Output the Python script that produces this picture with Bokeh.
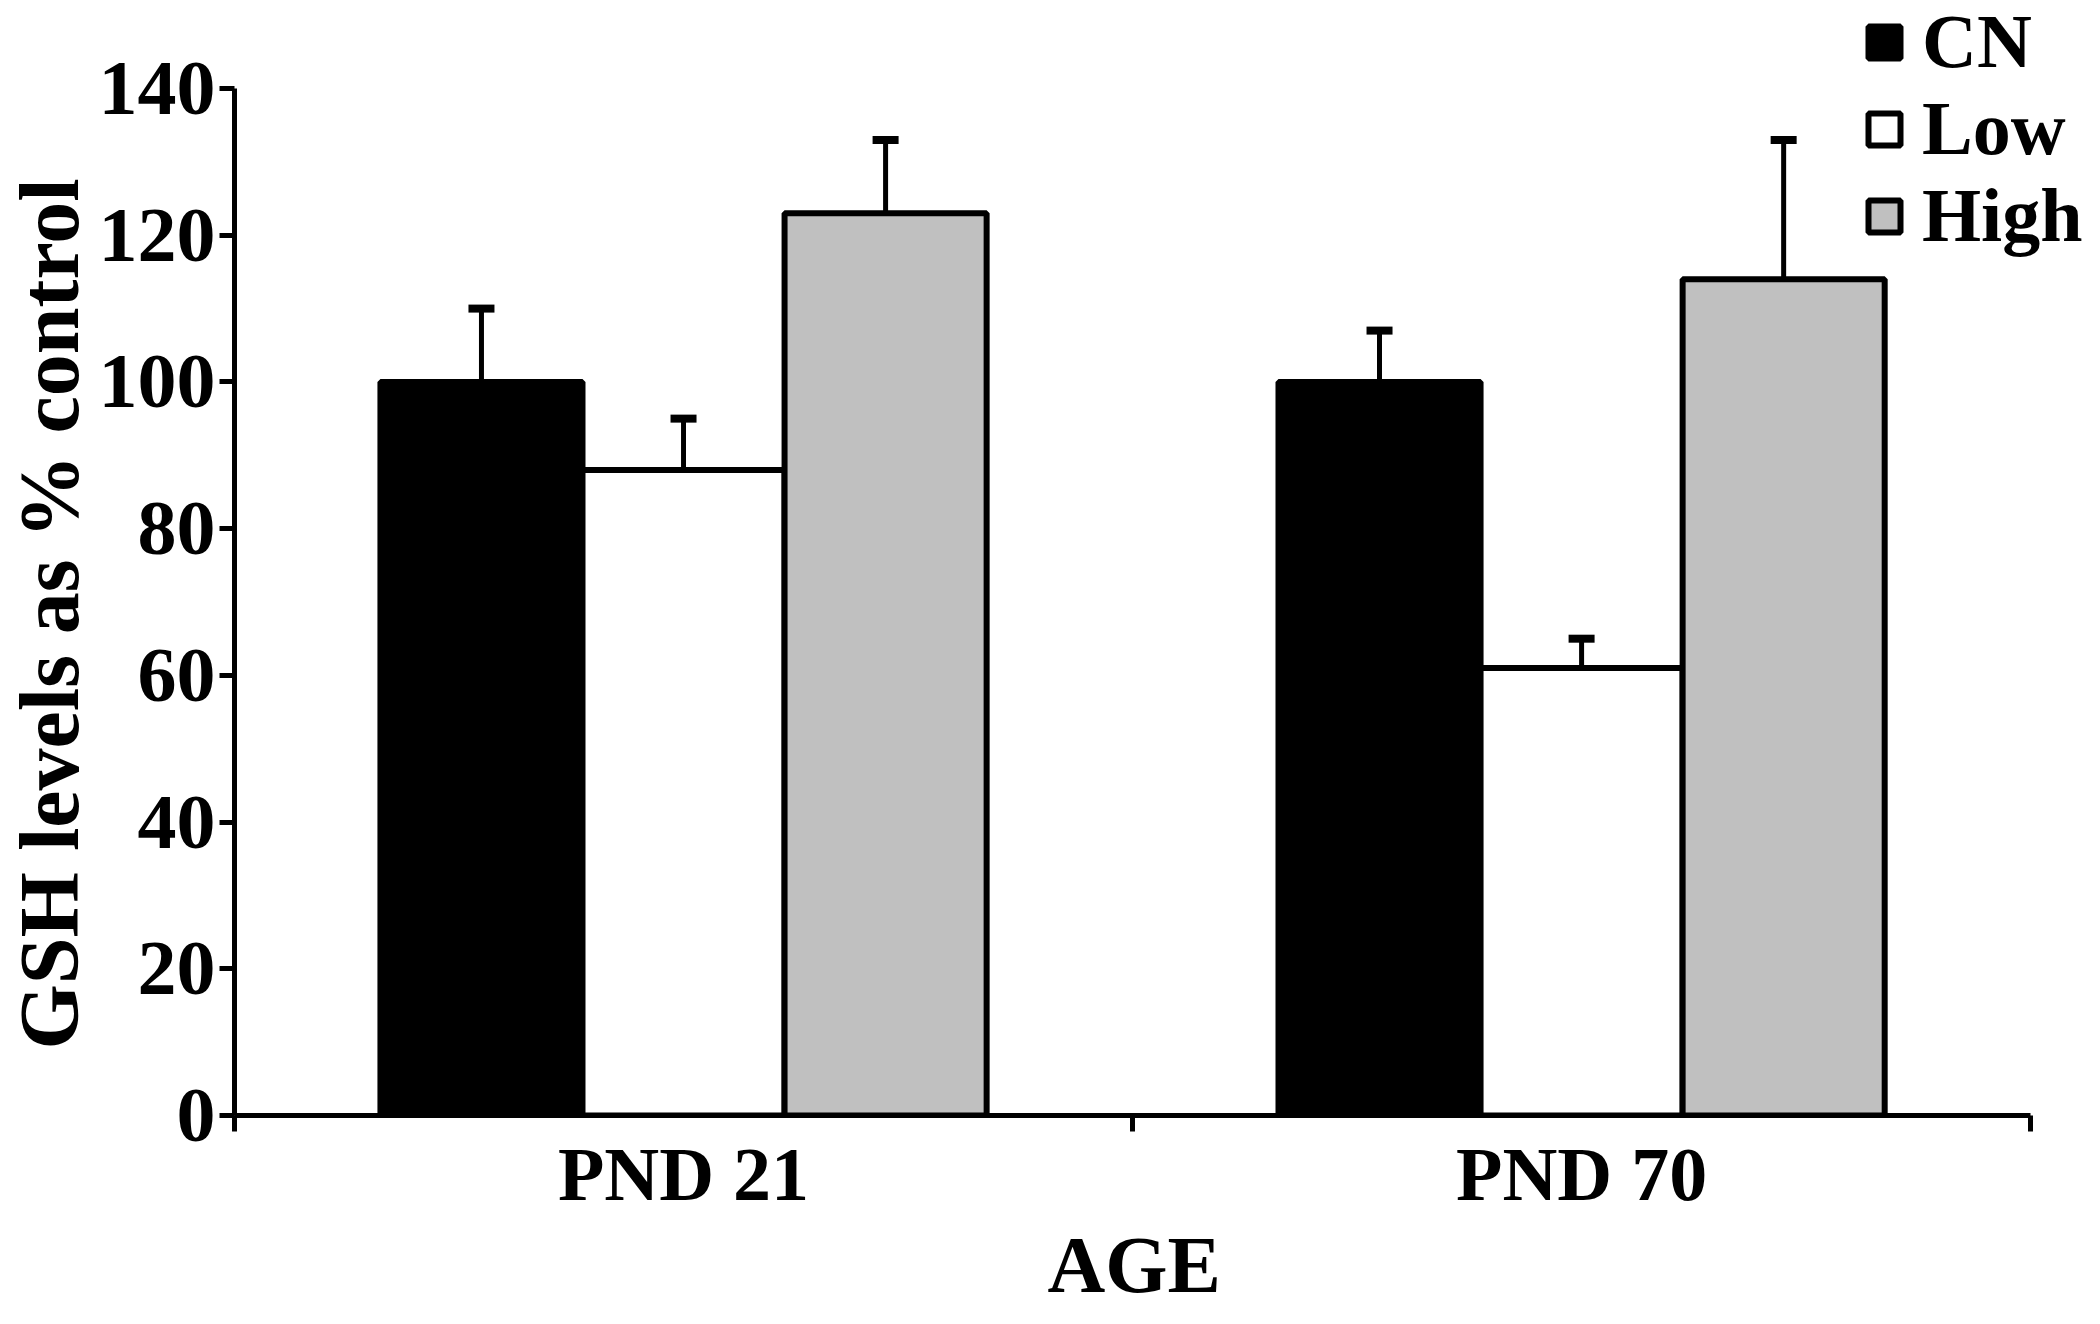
from bokeh.plotting import figure
from bokeh.models import (Legend, LegendItem, Whisker, TeeHead, ColumnDataSource,
                          LinearAxis, FixedTicker, Range1d, Title)
from bokeh.embed import file_html
from bokeh.resources import INLINE

# ---- data ----
ages = ["PND 21", "PND 70"]
groups = ["CN", "Low", "High"]
cn = [100, 100]
cn_err = [10, 7]
low = [88, 61]
low_err = [7, 4]
high = [123, 114]
high_err = [10, 19]
y_ticks = [0, 20, 40, 60, 80, 100, 120, 140]
y_label = "GSH levels as % control"
x_label = "AGE"

values = {"CN": cn, "Low": low, "High": high}
errors = {"CN": cn_err, "Low": low_err, "High": high_err}
fills = {"CN": "#000000", "Low": "#ffffff", "High": "#c0c0c0"}
offsets = {"CN": -0.225, "Low": 0.0, "High": 0.225}

FONT = "Liberation Serif"

p = figure(width=2084, height=1308, x_range=Range1d(0, 2.06), y_range=Range1d(0, 152),
           output_backend="svg", toolbar_location=None, title=None, x_axis_location=None)
p.min_border_left = 228
p.min_border_right = 0
p.min_border_top = 0
p.min_border_bottom = 185
p.outline_line_color = None
p.grid.visible = False
p.background_fill_color = "white"

renderers = {}
for g in groups:
    xs = [i + 0.5 + offsets[g] for i in range(len(ages))]
    src = ColumnDataSource(dict(x=xs, top=values[g],
                                upper=[v + e for v, e in zip(values[g], errors[g])]))
    r = p.vbar(x="x", top="top", width=0.225, source=src, fill_color=fills[g],
               line_color="black", line_width=6)
    renderers[g] = r
    w = Whisker(base="x", upper="upper", lower="top", source=src,
                upper_head=TeeHead(size=26, line_width=8, line_color="black"),
                lower_head=None, line_width=5, line_color="black")
    p.add_layout(w)

# y axis
ya = p.yaxis[0]
ya.bounds = (y_ticks[0], y_ticks[-1])
ya.ticker = FixedTicker(ticks=y_ticks)
ya.axis_line_width = 5
ya.major_tick_line_width = 5
ya.major_tick_out = 15
ya.major_tick_in = 0
ya.minor_tick_out = 0
ya.minor_tick_in = 0
ya.major_label_text_font = FONT
ya.major_label_text_font_style = "bold"
ya.major_label_text_font_size = "78px"
ya.major_label_text_color = "black"
ya.major_label_standoff = 4

# y label as a left title (shifted to match the reference's position)
p.add_layout(Title(text=y_label, align="left", offset=66, standoff=0,
                   text_font=FONT, text_font_style="bold", text_font_size="84px",
                   text_color="black"), "left")

# x axis with boundary ticks
xt = LinearAxis(ticker=FixedTicker(ticks=[0, 1, 2]), bounds=(0, len(ages)),
                major_label_overrides={0: "", 1: "", 2: ""},
                major_label_text_font_size="1px", major_label_standoff=0,
                axis_line_width=5, major_tick_line_width=5,
                major_tick_out=16, major_tick_in=0, minor_tick_out=0, minor_tick_in=0)
p.add_layout(xt, "below")

# x axis with category labels
label_ticks = [i + 0.5 for i in range(len(ages))]
xl = LinearAxis(ticker=FixedTicker(ticks=label_ticks),
                major_label_overrides={t: a for t, a in zip(label_ticks, ages)},
                axis_line_color=None, major_tick_line_color=None,
                major_tick_out=0, major_tick_in=0, minor_tick_out=0, minor_tick_in=0,
                major_label_standoff=0,
                major_label_text_font=FONT, major_label_text_font_style="bold",
                major_label_text_font_size="76px", major_label_text_color="black")
p.add_layout(xl, "below")

# x label as a below title, centred under the axis (not the wider frame)
p.add_layout(Title(text=x_label, align="left", offset=813, standoff=0,
                   text_font=FONT, text_font_style="bold", text_font_size="80px",
                   text_color="black"), "below")

legend = Legend(items=[LegendItem(label=g, renderers=[renderers[g]]) for g in groups],
                location=(1630, 856), border_line_color=None, background_fill_alpha=0,
                padding=0, margin=0, spacing=0, glyph_width=40, glyph_height=40,
                label_standoff=18, label_height=80,
                label_text_font=FONT, label_text_font_style="bold",
                label_text_font_size="76px", label_text_color="black")
p.add_layout(legend)

open("out.html", "w").write(file_html(p, INLINE))
